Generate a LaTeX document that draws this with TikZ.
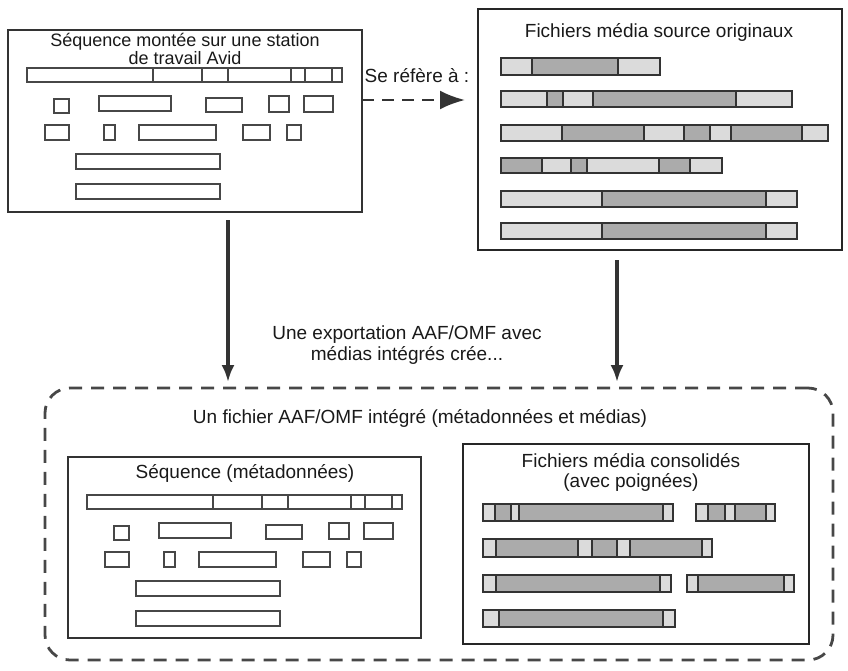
\documentclass[tikz,border=0pt]{standalone}
\usepackage{fontspec}
\setmainfont{Liberation Sans}
\usetikzlibrary{positioning, arrows.meta}

\definecolor{lite}{gray}{0.86}
\definecolor{dark}{gray}{0.67}
\definecolor{ink}{gray}{0.2}

\begin{document}
\begin{tikzpicture}[
    x=1pt, y=-1pt,
    panel/.style={draw=ink, line width=2pt, inner sep=0pt, outer sep=0pt},
    heavy/.style={panel, draw=black!85, line width=2.8pt},
    slot/.style={draw=ink!90, line width=1.8pt},
    seg/.style={draw=ink, line width=1.8pt},
    txt/.style={font=\fontsize{19}{22}\selectfont, text=black!90, inner sep=0pt, anchor=base, align=center},
    directed/.style={-{Latex[length=17pt, width=13pt]}, line width=3.2pt, draw=ink},
    refers/.style={-{Latex[length=25pt, width=19pt]}, line width=2.6pt, draw=ink, dash pattern=on 12pt off 8pt}
]
    \useasboundingbox (0,0) rectangle (848,670);

    % Panels
    \node[panel, minimum width=354pt, minimum height=182pt] (seq) at (185,121) {};
    \node[heavy, minimum width=364pt, minimum height=241pt] (src) at (660,129.5) {};
    \node[panel, draw=ink!90, line width=2.8pt, dash pattern=on 13pt off 9pt, rounded corners=25pt,
          minimum width=788pt, minimum height=272pt] (aaf) at (439,524) {};
    \node[panel, minimum width=353pt, minimum height=181pt] (meta) at (244.5,547.5) {};
    \node[heavy, minimum width=346pt, minimum height=200pt] (cons) at (636,544) {};

    % Titles (base = last line)
    \node[txt, font=\fontsize{18}{18}\selectfont] (seqtitle) at (185,64) {Séquence montée sur une station\\de travail Avid};
    \node[txt] (srctitle) at (659,37) {Fichiers média source originaux};
    \node[txt] (reftext) at (417,82) {Se réfère à :};
    \node[txt, font=\fontsize{19}{21}\selectfont] (exptext) at (407,360) {Une exportation AAF/OMF avec\\médias intégrés crée...};
    \node[txt] (aaftitle) at (420,423) {Un fichier AAF/OMF intégré (métadonnées et médias)};
    \node[txt] (metatitle) at (245,478) {Séquence (métadonnées)};
    \node[txt, font=\fontsize{19}{20}\selectfont] (constitle) at (631,487) {Fichiers média consolidés\\(avec poignées)};

    % Connectors
    \draw[directed, shorten <=8pt, shorten >=6pt] ([xshift=43pt]seq.south) -- ([xshift=43pt]seq.south |- aaf.north);
    \draw[directed, shorten <=10pt, shorten >=6pt] ([xshift=-43pt]src.south) -- ([xshift=-43pt]src.south |- aaf.north);
    \draw[refers, shorten >=13pt] ([yshift=21pt]seq.east) -- ([yshift=21pt]seq.east -| src.west);

    % Sequence timelines (same layout in both panels)
    \foreach \ox/\oy in {8/30, 68/457} {
        \begin{scope}[shift={(\ox,\oy)}]
            \draw[slot] (19,38) rectangle (334,52);
            \foreach \d in {145,194,220,283,297,324}
                \draw[slot] (\d,38) -- (\d,52);
            \foreach \xa/\xb/\ya/\yb in {46/61/69/83, 91/163/66/81, 198/234/68/82, 261/281/66/82, 296/325/66/82,
                                         37/61/95/110, 96/107/95/110, 131/208/95/110, 235/262/95/110, 279/293/95/110,
                                         68/212/124/139, 68/212/154/169}
                \draw[slot] (\xa,\ya) rectangle (\xb,\yb);
        \end{scope}
    }

    % Original source media
    \foreach \xa/\xb/\c in {501/532/lite, 532/618/dark, 618/660/lite}
        \draw[seg, fill=\c] (\xa,58) rectangle (\xb,75);
    \foreach \xa/\xb/\c in {501/547/lite, 547/563/dark, 563/593/lite, 593/736/dark, 736/792/lite}
        \draw[seg, fill=\c] (\xa,91) rectangle (\xb,107);
    \foreach \xa/\xb/\c in {501/562/lite, 562/644/dark, 644/684/lite, 684/710/dark, 710/731/lite, 731/802/dark, 802/828/lite}
        \draw[seg, fill=\c] (\xa,125) rectangle (\xb,141);
    \foreach \xa/\xb/\c in {501/542/dark, 542/571/lite, 571/587/dark, 587/659/lite, 659/690/dark, 690/722/lite}
        \draw[seg, fill=\c] (\xa,158) rectangle (\xb,173);
    \foreach \ya/\yb in {191/207, 223/239}
        \foreach \xa/\xb/\c in {501/602/lite, 602/766/dark, 766/797/lite}
            \draw[seg, fill=\c] (\xa,\ya) rectangle (\xb,\yb);

    % Consolidated media with handles
    \foreach \xa/\xb/\c in {483/495/lite, 495/511/dark, 511/519/lite, 519/663/dark, 663/673/lite,
                            696/708/lite, 708/725/dark, 725/735/lite, 735/766/dark, 766/775/lite}
        \draw[seg, fill=\c] (\xa,504) rectangle (\xb,521);
    \foreach \xa/\xb/\c in {483/496/lite, 496/578/dark, 578/592/lite, 592/617/dark, 617/630/lite, 630/702/dark, 702/712/lite}
        \draw[seg, fill=\c] (\xa,539) rectangle (\xb,557);
    \foreach \xa/\xb/\c in {483/496/lite, 496/660/dark, 660/671/lite, 687/698/lite, 698/784/dark, 784/794/lite}
        \draw[seg, fill=\c] (\xa,575) rectangle (\xb,592);
    \foreach \xa/\xb/\c in {483/499/lite, 499/663/dark, 663/675/lite}
        \draw[seg, fill=\c] (\xa,610) rectangle (\xb,627);
\end{tikzpicture}
\end{document}
